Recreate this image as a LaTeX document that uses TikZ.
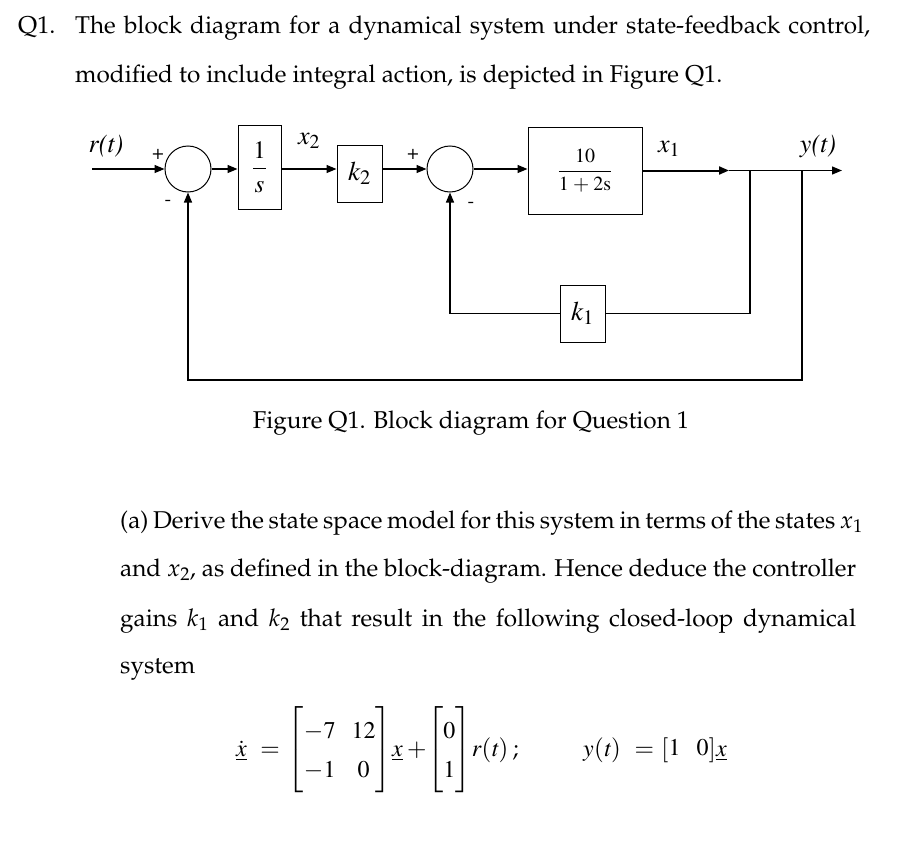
\documentclass[tikz,border=0pt]{standalone}
\usepackage[T1]{fontenc}
\usepackage{amsmath}
\usepackage{mathpazo}
\usetikzlibrary{arrows.meta}
\newcommand\tmsf{\fontfamily{ptm}\selectfont}
\newcommand\tn[1]{\text{\tmsf #1}}
\newcommand\ti[1]{\text{\tmsf\itshape #1}}
\begin{document}
\begin{tikzpicture}[x=1pt,y=-1pt,
  blk/.style={draw, line width=1pt, inner sep=0pt},
  sumc/.style={draw, circle, line width=1pt, minimum size=46pt, inner sep=0pt},
  wire/.style={line width=1.3pt},
  sig/.style={line width=1.3pt, -{Triangle[length=10pt,width=8pt]}},
  lbl/.style={font=\tmsf\fontsize{26}{26}\selectfont, inner sep=0pt},
  pm/.style={font=\tmsf\fontsize{20}{20}\selectfont, inner sep=0pt},
  body/.style={font=\fontsize{24.3}{26}\selectfont, inner sep=0pt, anchor=base west},
  eqn/.style={font=\tmsf\fontsize{24}{26}\selectfont, inner sep=0pt, anchor=west}
]
\useasboundingbox[fill=white] (0,0) rectangle (906,846);

% text
\node[body] (q) at (18,33) {Q1.};
\node[body] (t1) at (75,33) {\makebox[795pt][s]{The block diagram for a dynamical system under state-feedback control,}};
\node[body] (t2) at (75,82) {modified to include integral action, is depicted in Figure Q1.};

% diagram
\node[sumc] (s1) at (188,169) {};
\node[blk, minimum width=43pt, minimum height=84pt] (int) at (259.5,167)
  {\tmsf\fontsize{25}{25}\selectfont$\dfrac{\tn{1}\rule[-5pt]{0pt}{18pt}}{\rule{0pt}{17pt}\ti{s}}$};
\node[blk, minimum width=45pt, minimum height=57pt] (k2) at (359.5,173.5)
  {\tmsf\fontsize{27}{27}\selectfont$\ti{k}_{\tn{2}}$};
\node[sumc] (s2) at (450,169) {};
\node[blk, minimum width=114pt, minimum height=87pt] (plant) at (585,170.5)
  {\tmsf\fontsize{20}{20}\selectfont$\dfrac{\tn{10}\rule[-4pt]{0pt}{10pt}}{\rule{0pt}{15pt}\tn{1}+\tn{2s}}$};
\node[blk, minimum width=45pt, minimum height=57pt] (k1) at (582.5,313.5)
  {\tmsf\fontsize{27}{27}\selectfont$\ti{k}_{\tn{1}}$};

\coordinate (rin) at (92,169);
\coordinate (arr) at (729,170.5);
\coordinate (j1) at (750,170.5);
\coordinate (j2) at (802,170.5);
\coordinate (yend) at (842,170.5);
\coordinate (fb) at (188,380);

\draw[sig] (rin) -- (s1.west);
\draw[sig] (s1.east) -- (int.west |- s1.east);
\draw[sig] (int.east |- s1.east) -- (k2.west |- s1.east);
\draw[sig] (k2.east |- s1.east) -- (s2.west);
\draw[sig] (s2.east) -- (plant.west |- s2.east);
\draw[sig, line width=2pt] (plant.east) -- (arr);
\draw[wire] (arr) -- (j2);
\draw[sig] (j2) -- (yend);
\draw[wire] (j1) |- (k1.east);
\draw[sig] (k1.west) -| (s2.south);
\draw[sig] (j2) |- (fb) -- (s1.south);

% labels
\node[lbl] (lr) at (106,146) {\itshape r(t)};
\node[pm] (p1) at (158,154) {+};
\node[pm] (m1) at (168,203) {-};
\node[lbl] (lx2) at (309,141) {$\ti{x}_{\tn{2}}$};
\node[pm] (p2) at (413,154) {+};
\node[pm] (m2) at (471,205) {-};
\node[lbl] (lx1) at (669,149) {$\ti{x}_{\tn{1}}$};
\node[lbl] (ly) at (818,146) {\itshape y(t)};

\node[font=\fontsize{24.3}{26}\selectfont, inner sep=0pt] (cap) at (471,423) {Figure Q1. Block diagram for Question 1};

\node[body] (a1) at (120,528) {\makebox[736pt][s]{(a) Derive the state space model for this system in terms of the states $x_1$}};
\node[body] (a2) at (120,576) {\makebox[736pt][s]{and $x_2$, as defined in the block-diagram. Hence deduce the controller}};
\node[body] (a3) at (120,626) {\makebox[736pt][s]{gains $k_1$ and $k_2$ that result in the following closed-loop dynamical}};
\node[body] (a4) at (120,673) {system};

\node[eqn] (eq1) at (236,750)
  {\renewcommand\arraystretch{1.5}\setlength\arraycolsep{8pt}$\underline{\dot{\ti{x}}}\;=\begin{bmatrix}-\tn{7} & \tn{12}\\ -\tn{1} & \tn{0}\end{bmatrix}\!\underline{\ti{x}}\,{+}\!\begin{bmatrix}\tn{0}\\ \tn{1}\end{bmatrix}\!\ti{r}(\ti{t})\,;$};
\node[eqn] (eq2) at (583,750)
  {\setlength\arraycolsep{8pt}$\ti{y}(\ti{t})\;=\begin{bmatrix}\tn{1} & \tn{0}\end{bmatrix}\!\underline{\ti{x}}$};
\end{tikzpicture}
\end{document}
